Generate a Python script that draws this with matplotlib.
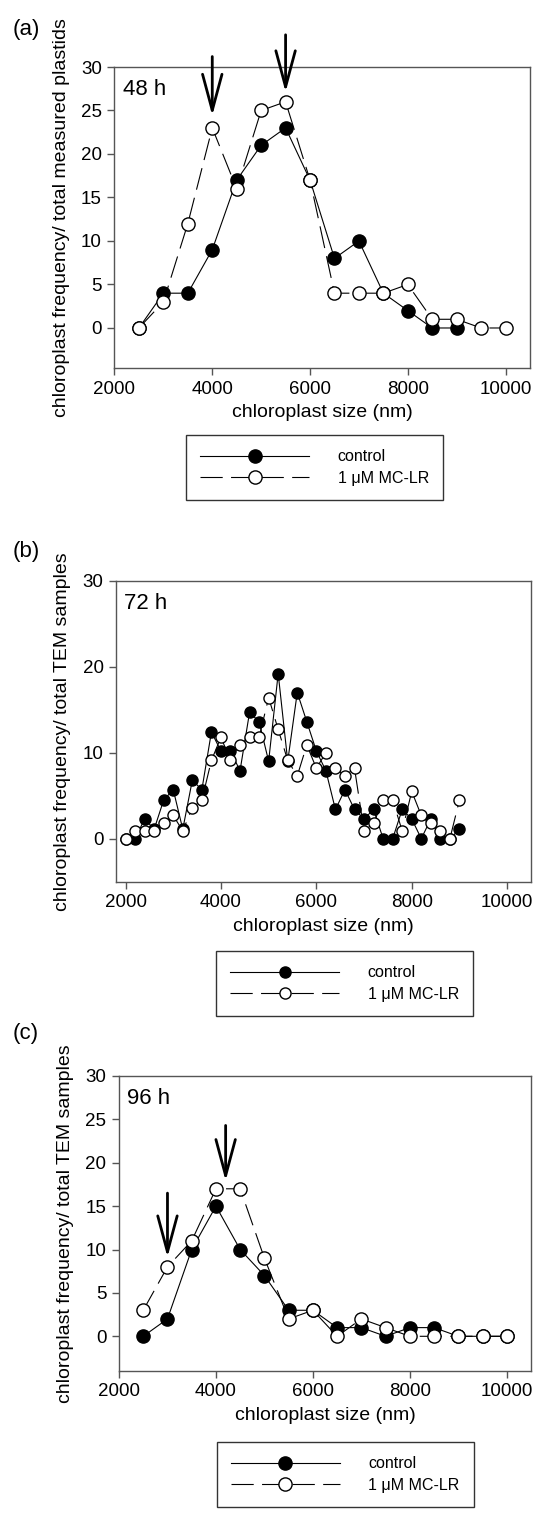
import matplotlib
matplotlib.use("Agg")
import matplotlib.pyplot as plt

plt.rcParams['font.family'] = ['Liberation Sans', 'DejaVu Sans']
plt.rcParams['lines.scale_dashes'] = False

# (a) 48 h
size_a = [2500, 3000, 3500, 4000, 4500, 5000, 5500, 6000, 6500, 7000, 7500, 8000, 8500, 9000, 9500, 10000]
ctrl_a = [0, 4, 4, 9, 17, 21, 23, 17, 8, 10, 4, 2, 0, 0]
mc_a = [0, 3, 12, 23, 16, 25, 26, 17, 4, 4, 4, 5, 1, 1, 0, 0]

# (b) 72 h
size_b = [2000, 2200, 2400, 2600, 2800, 3000, 3200, 3400, 3600, 3800, 4000, 4200,
          4400, 4600, 4800, 5000, 5200, 5400, 5600, 5800, 6000, 6200, 6400, 6600,
          6800, 7000, 7200, 7400, 7600, 7800, 8000, 8200, 8400, 8600, 8800, 9000]
ctrl_b = [0, 0, 2.3, 1.1, 4.5, 5.7, 1.1, 6.8, 5.7, 12.4, 10.2, 10.2,
          7.9, 14.7, 13.6, 9.0, 19.2, 9.0, 17.0, 13.6, 10.2, 7.9, 3.4, 5.7,
          3.4, 2.3, 3.4, 0, 0, 3.4, 2.3, 0, 2.3, 0, 0, 1.1]
mc_b = [0, 0.9, 0.9, 0.9, 1.8, 2.7, 0.9, 3.6, 4.5, 9.1, 11.8, 9.1,
        10.9, 11.8, 11.8, 16.4, 12.7, 9.1, 7.3, 10.9, 8.2, 10.0, 8.2, 7.3,
        8.2, 0.9, 1.8, 4.5, 4.5, 0.9, 5.5, 2.7, 1.8, 0.9, 0, 4.5]

# (c) 96 h
size_c = [2500, 3000, 3500, 4000, 4500, 5000, 5500, 6000, 6500, 7000, 7500, 8000, 8500, 9000, 9500, 10000]
ctrl_c = [0, 2, 10, 15, 10, 7, 3, 3, 1, 1, 0, 1, 1, 0, 0, 0]
mc_c = [3, 8, 11, 17, 17, 9, 2, 3, 0, 2, 1, 0, 0, 0, 0, 0]

# arrows: (x, tail y, tip y)
arrows_a = [(4000, 31.2, 24.4), (5500, 33.7, 27.1)]
arrows_c = [(4200, 24.3, 17.9), (3000, 16.5, 9.1)]

W, H = 541, 1516
fig = plt.figure(figsize=(W / 100, H / 100), dpi=100)

def px_axes(left, right, top, bottom):
    return fig.add_axes([left / W, 1 - bottom / H, (right - left) / W, (bottom - top) / H])

def style(ax, ylim, yticks, xlim, ylabel, hours):
    ax.set_xlim(*xlim)
    ax.set_ylim(*ylim)
    ax.set_yticks(yticks)
    ax.set_xticks([2000, 4000, 6000, 8000, 10000])
    for sp in ax.spines.values():
        sp.set_color('#555555')
        sp.set_linewidth(1.0)
    ax.tick_params(direction='out', length=5, width=1, color='#555555', labelsize=13.5, pad=4)
    ax.set_xlabel('chloroplast size (nm)', fontsize=14, labelpad=5)
    ax.set_ylabel(ylabel, fontsize=14, labelpad=8)
    ax.text(0.02, 0.96, hours, transform=ax.transAxes, fontsize=16, va='top', ha='left')

def draw(ax, sx, c, m, ms):
    ax.plot(sx[:len(c)], c, '-', color='black', lw=0.8, marker='o', ms=ms,
            mfc='black', mec='black', mew=1.0, label='control', zorder=3)
    ax.plot(sx[:len(m)], m, color='black', lw=0.8, dashes=(16, 6), marker='o', ms=ms,
            mfc='white', mec='black', mew=1.0, label='1 \u03bcM MC-LR', zorder=4)

def legend(ax, left, top):
    lg = ax.legend(loc='upper left', bbox_to_anchor=(left / W, 1 - top / H),
                   bbox_transform=fig.transFigure, borderaxespad=0, fancybox=False,
                   edgecolor='#333333', fontsize=11.5, handlelength=6.8, handletextpad=1.8,
                   borderpad=0.9, labelspacing=0.4, framealpha=1)
    lg.get_frame().set_linewidth(1.0)

def add_arrows(ax, arrows):
    for x, y0, y1 in arrows:
        ax.annotate('', xy=(x, y1), xytext=(x, y0), annotation_clip=False,
                    arrowprops=dict(arrowstyle='->,head_length=2.6,head_width=0.7',
                                    lw=2.0, color='black', shrinkA=0, shrinkB=0))

# panel (a)
ax_a = px_axes(114.5, 530, 67, 368)
draw(ax_a, size_a, ctrl_a, mc_a, 9.5)
style(ax_a, (-4.6, 30), [0, 5, 10, 15, 20, 25, 30], (2000, 10500),
      'chloroplast frequency/ total measured plastids', '48 h')
add_arrows(ax_a, arrows_a)
legend(ax_a, 186, 435)
fig.text(13 / W, 1 - 30 / H, '(a)', fontsize=16, va='center', ha='left')

# panel (b)
ax_b = px_axes(116, 531, 580.7, 881.7)
draw(ax_b, size_b, ctrl_b, mc_b, 8)
style(ax_b, (-5, 30), [0, 10, 20, 30], (1800, 10500),
      'chloroplast frequency/ total TEM samples', '72 h')
legend(ax_b, 216, 951)
fig.text(13 / W, 1 - 552 / H, '(b)', fontsize=16, va='center', ha='left')

# panel (c)
ax_c = px_axes(119, 531, 1076, 1371)
draw(ax_c, size_c, ctrl_c, mc_c, 9.5)
style(ax_c, (-4.0, 30), [0, 5, 10, 15, 20, 25, 30], (2000, 10500),
      'chloroplast frequency/ total TEM samples', '96 h')
add_arrows(ax_c, arrows_c)
legend(ax_c, 216.7, 1442)
fig.text(13 / W, 1 - 1034 / H, '(c)', fontsize=16, va='center', ha='left')

fig.savefig('out.png', dpi=100)
